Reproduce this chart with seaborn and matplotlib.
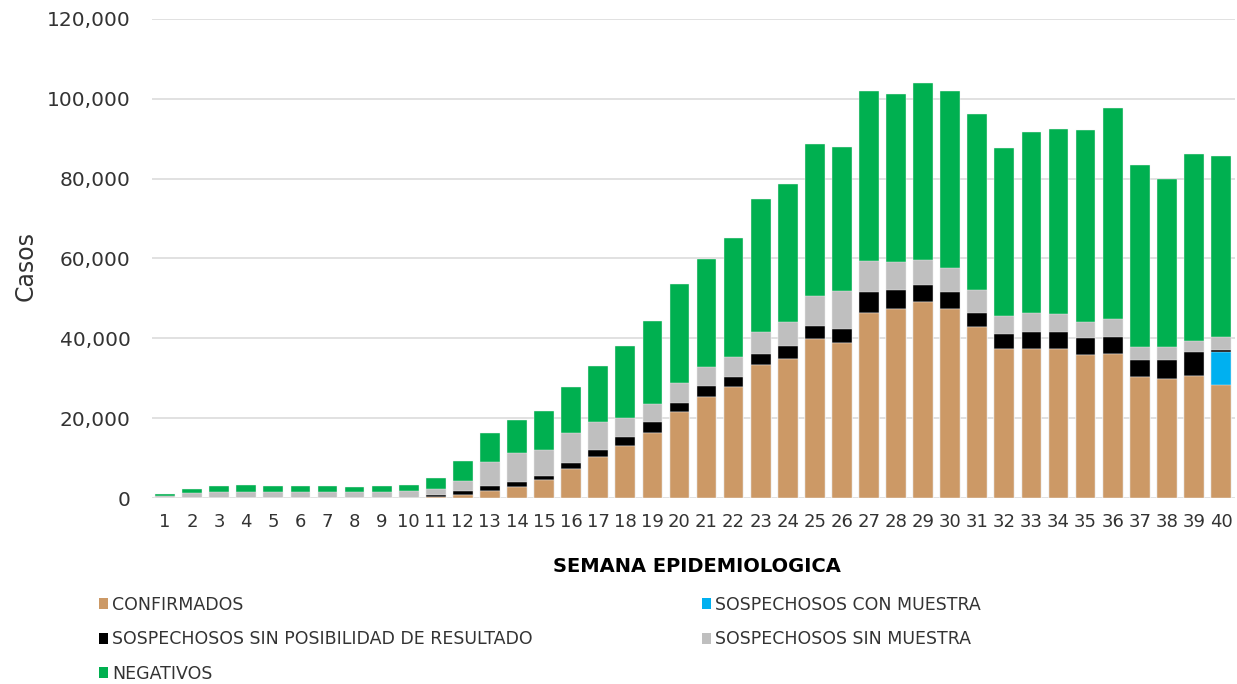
import matplotlib
matplotlib.use('Agg')
import matplotlib.pyplot as plt
from matplotlib.patches import Patch
from matplotlib.ticker import FuncFormatter
import numpy as np
import pandas as pd
import seaborn as sns

# Weekly case counts by status
semanas = [str(i) for i in range(1, 41)]

confirmados = [0, 0, 0, 0, 0, 0, 0, 0, 0, 0,
               300, 750, 1700, 2700, 4600, 7300, 10200, 13000, 16400, 21500,
               25400, 27800, 33300, 34800, 39800, 38900, 46400, 47300, 49000, 47400,
               42800, 37400, 37300, 37300, 35700, 36100, 30300, 29700, 30500, 28200]

con_muestra = [0] * 39 + [8300]

sin_posibilidad = [0, 0, 0, 0, 0, 0, 0, 0, 0, 0,
                   500, 1000, 1250, 1300, 900, 1400, 1900, 2300, 2600, 2200,
                   2700, 2600, 2800, 3300, 3200, 3400, 5100, 4900, 4300, 4100,
                   3600, 3600, 4300, 4400, 4300, 4300, 4200, 4900, 6100, 700]

sin_muestra = [500, 1200, 1600, 1600, 1600, 1600, 1600, 1600, 1600, 1850,
               1500, 2500, 6000, 7300, 6600, 7700, 7000, 4700, 4500, 5100,
               4800, 4900, 5600, 5900, 7700, 9600, 7900, 6900, 6200, 6200,
               5600, 4700, 4700, 4400, 4100, 4500, 3300, 3200, 2800, 3200]

negativos = [400, 1050, 1300, 1750, 1300, 1300, 1300, 1050, 1500, 1500,
             2600, 5100, 7400, 8300, 9600, 11400, 13900, 18000, 20800, 24700,
             27000, 29900, 33100, 34600, 37950, 36000, 42500, 42000, 44400, 44300,
             44300, 42100, 45300, 46300, 48000, 52700, 45500, 42200, 46700, 45300]

series = ['CONFIRMADOS', 'SOSPECHOSOS CON MUESTRA',
          'SOSPECHOSOS SIN POSIBILIDAD DE RESULTADO',
          'SOSPECHOSOS SIN MUESTRA', 'NEGATIVOS']
colores = ['#CC9966', '#00B0F0', '#000000', '#BFBFBF', '#00B050']

df = pd.DataFrame({'semana': semanas,
                   series[0]: confirmados,
                   series[1]: con_muestra,
                   series[2]: sin_posibilidad,
                   series[3]: sin_muestra,
                   series[4]: negativos})

# cumulative sums so the bars can be layered to look stacked
cum = df[series].cumsum(axis=1)
cum['semana'] = semanas

sns.set_style('white')
plt.rcParams['font.family'] = ['DejaVu Sans']
txt = '#333333'

fig = plt.figure(figsize=(12.37, 6.84), dpi=100)
ax = fig.add_axes([151.5 / 1237, 186 / 684, 1083 / 1237, 479 / 684])

# tallest first, then each lower layer on top
for name, col in reversed(list(zip(series, colores))):
    sns.barplot(data=cum, x='semana', y=name, color=col, width=0.73,
                edgecolor='#F2F2F2', linewidth=0.3, saturation=1, ax=ax, zorder=3)

ax.set_xlim(-0.5, 39.5)
ax.set_ylim(0, 120000)
ax.set_yticks(np.arange(0, 120001, 20000))
ax.yaxis.set_major_formatter(FuncFormatter(lambda v, p: f'{int(v):,}'))
ax.grid(axis='y', color='#D9D9D9', linewidth=1.1, zorder=0)
ax.set_axisbelow(True)
for s in ax.spines.values():
    s.set_visible(False)

ax.tick_params(axis='y', length=0, pad=15, labelsize=14.5, labelcolor=txt)
ax.tick_params(axis='x', length=0, pad=11, labelsize=13, labelcolor=txt)

ax.set_ylabel('Casos', fontsize=17, color=txt)
ax.yaxis.set_label_coords(-0.105, 0.484)
ax.set_xlabel('SEMANA EPIDEMIOLOGICA', fontsize=14, fontweight='bold', color='black')
ax.xaxis.set_label_coords(0.504, -0.123)

# legend in two columns, like the original
def handles(idx):
    return [Patch(facecolor=colores[i], edgecolor='none', label=series[i]) for i in idx]

leg_kw = dict(frameon=False, fontsize=12.5, labelspacing=0.95, handlelength=0.5,
              handleheight=0.6, handletextpad=0.25, borderpad=0, borderaxespad=0,
              loc='upper left', bbox_transform=fig.transFigure, labelcolor=txt)
leg1 = ax.legend(handles=handles([0, 2, 4]), bbox_to_anchor=(99 / 1237, 1 - 596 / 684), **leg_kw)
ax.add_artist(leg1)
ax.legend(handles=handles([1, 3]), bbox_to_anchor=(702 / 1237, 1 - 596 / 684), **leg_kw)

fig.savefig('out.png', dpi=100)
